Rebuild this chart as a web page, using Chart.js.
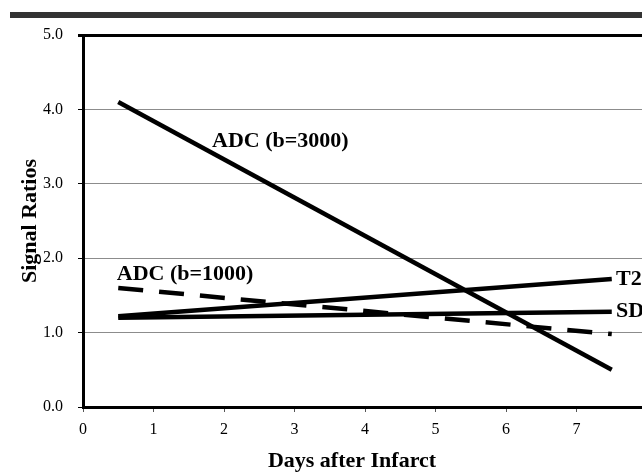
<!DOCTYPE html>
<html>
<head>
<meta charset="utf-8">
<script src="https://cdn.jsdelivr.net/npm/chart.js@4/dist/chart.umd.min.js"></script>
<style>
  html, body { margin: 0; padding: 0; background: #fff; overflow: hidden; }
</style>
</head>
<body>
<canvas id="signalChart" width="660" height="472"></canvas>
<script>
// regression lines, start and end day
const days = [0.5, 7.5];
const adc3000 = [4.1, 0.5];
const adc1000 = [1.6, 0.98];
const t2 = [1.22, 1.72];
const sd = [1.2, 1.28];

const yTicks = [0, 1, 2, 3, 4, 5];
const xTicks = [0, 1, 2, 3, 4, 5, 6, 7, 8];

// line labels, placed in data units
const lineLabels = [
  { text: "ADC (b=3000)", x: 1.83, y: 3.49, base: "alphabetic" },
  { text: "ADC (b=1000)", x: 0.48, y: 1.71, base: "alphabetic" },
  { text: "T2", x: 7.56, y: 1.72, base: "middle" },
  { text: "SD", x: 7.56, y: 1.28, base: "middle" },
];

const serif = "Liberation Serif";
const toPoints = (vals) => days.map((d, i) => ({ x: d, y: vals[i] }));

const lineStyle = {
  borderColor: "#000",
  borderWidth: 4.5,
  pointRadius: 0,
  tension: 0,
  borderCapStyle: "butt",
};

const data = {
  datasets: [
    { label: "ADC (b=3000)", data: toPoints(adc3000), ...lineStyle },
    { label: "ADC (b=1000)", data: toPoints(adc1000), ...lineStyle, borderDash: [25, 16] },
    { label: "T2", data: toPoints(t2), ...lineStyle },
    { label: "SD", data: toPoints(sd), ...lineStyle },
  ],
};

const decor = {
  id: "decor",
  beforeDraw(chart) {
    const ctx = chart.ctx;
    ctx.save();
    ctx.fillStyle = "#333";
    ctx.fillRect(10, 12, chart.width, 6);
    ctx.restore();
  },
  afterDatasetsDraw(chart) {
    const ctx = chart.ctx;
    const xs = chart.scales.x;
    const ys = chart.scales.y;
    ctx.save();
    ctx.fillStyle = "#000";
    ctx.font = "bold 22px " + serif;
    ctx.textAlign = "left";
    lineLabels.forEach((l) => {
      ctx.textBaseline = l.base;
      ctx.fillText(l.text, xs.getPixelForValue(l.x), ys.getPixelForValue(l.y));
    });
    // x axis title
    ctx.textAlign = "center";
    ctx.textBaseline = "alphabetic";
    ctx.fillText("Days after Infarct", 352, 467);
    ctx.restore();
  },
};

const options = {
  responsive: false,
  animation: false,
  devicePixelRatio: 1,
  layout: { padding: { left: 0, right: 13, top: 35, bottom: 0 } },
  plugins: { legend: { display: false }, tooltip: { enabled: false } },
  scales: {
    x: {
      type: "linear",
      min: 0,
      max: 8,
      afterBuildTicks: (s) => { s.ticks = xTicks.map((v) => ({ value: v })); },
      afterFit: (s) => { s.height = 65; },
      grid: { drawOnChartArea: false, tickLength: 5, tickColor: "#555" },
      border: { color: "#000", width: 3 },
      ticks: {
        color: "#000",
        font: { family: serif, size: 16 },
        padding: 8,
        maxRotation: 0,
        autoSkip: false,
      },
    },
    y: {
      min: 0,
      max: 5,
      afterBuildTicks: (s) => { s.ticks = yTicks.map((v) => ({ value: v })); },
      afterFit: (s) => { s.width = 83; },
      grid: {
        color: (c) => (c.tick && c.tick.value === 5 ? "#000" : "#8c8c8c"),
        lineWidth: (c) => (c.tick && c.tick.value === 5 ? 3 : 1),
        tickColor: "#000",
        tickLength: 5,
      },
      border: { color: "#000", width: 3 },
      ticks: {
        color: "#000",
        font: { family: serif, size: 16 },
        padding: 15,
        callback: (v) => v.toFixed(1),
      },
      title: {
        display: true,
        text: "Signal Ratios",
        color: "#000",
        font: { family: serif, size: 22, weight: "bold" },
        padding: { top: 17, bottom: 0 },
      },
    },
  },
};

new Chart("signalChart", { type: "line", data, options, plugins: [decor] });
</script>
</body>
</html>
